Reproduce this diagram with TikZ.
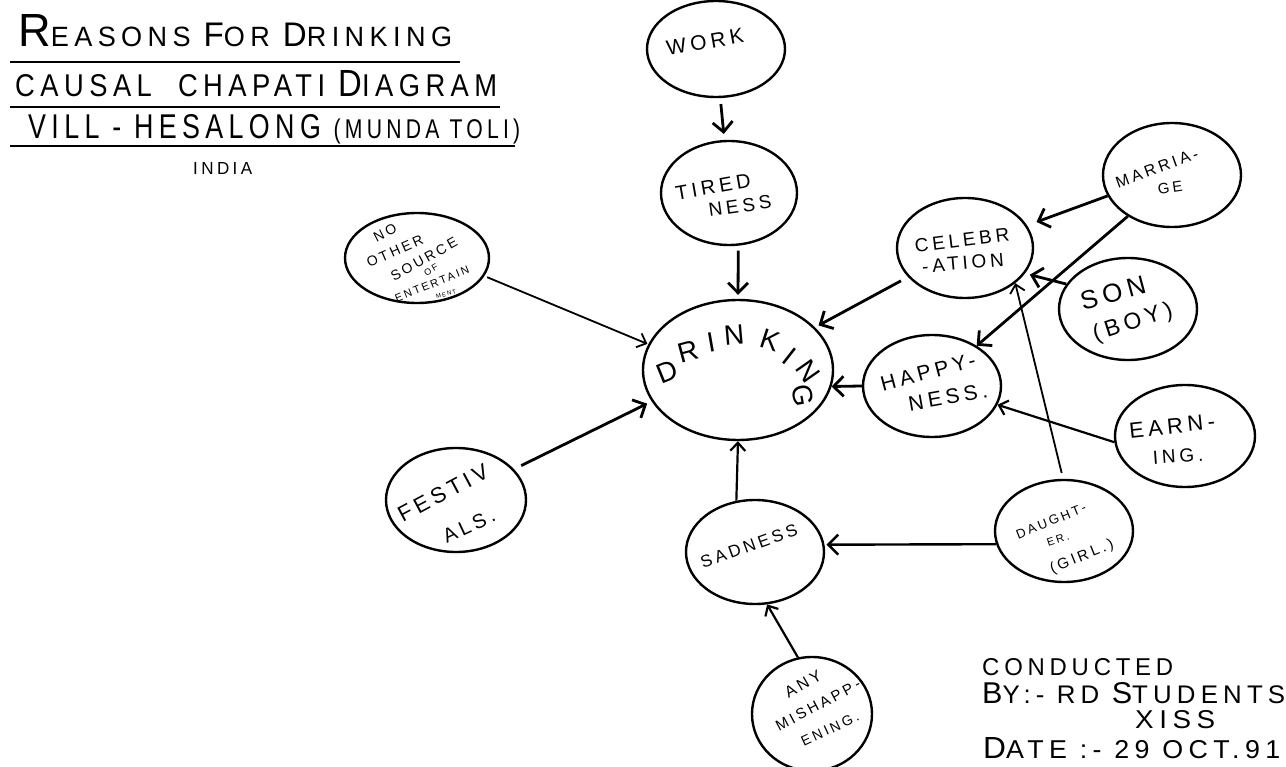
\documentclass[tikz,border=0pt]{standalone}
\usepackage{fontspec}
\setmainfont{Liberation Sans}
\newfontfamily\hand[LetterSpace=20]{Liberation Sans}
\usetikzlibrary{shapes.geometric,arrows.meta}
\newcommand\lsz[2]{{\fontsize{#1}{#1}\selectfont #2}}
\tikzset{
  bub/.style={ellipse, draw, line width=2.4pt, inner sep=0pt},
  tx/.style={inner sep=0pt, font=\hand\fontsize{#1}{#1}\selectfont},
  arr/.style={-{Straight Barb[length=10pt,width=20pt]}, line width=2.8pt},
  tarr/.style={-{Straight Barb[length=8pt,width=15pt]}, line width=1.8pt},
  rule/.style={line width=1.8pt},
  ttl/.style={inner sep=0pt, anchor=base west},
}
\begin{document}
\begin{tikzpicture}[x=1pt,y=-1pt]
\fill[white] (0,0) rectangle (1286,767);
\useasboundingbox (0,0) rectangle (1286,767);

% ---- title ----
\node[ttl] (t1) at (18,47) {\resizebox{434pt}{32pt}{\hand\lsz{27}{\lsz{45}{R}EASONS \lsz{33}{F}OR \lsz{33}{D}RINKING}}};
\draw[rule] (10,62) -- (460,62);
\node[ttl] (t2) at (15,97) {\resizebox{482pt}{26pt}{\hand\lsz{30}{CAUSAL\ \ CHAPATI \lsz{36}{D}IAGRAM}}};
\draw[rule] (10,107) -- (500,107);
\node[ttl] (t3) at (28,139) {\resizebox{492pt}{24pt}{\hand\lsz{33}{VILL - HESALONG \lsz{26}{(MUNDA TOLI)}}}};
\draw[rule] (10,146) -- (515,146);
\node[ttl] (india) at (193,175) {\resizebox{59pt}{12pt}{\hand\lsz{14}{INDIA}}};

% ---- bubbles ----
\node[bub, minimum width=138pt, minimum height=96pt] (work) at (716,49) {};
\node[bub, minimum width=136pt, minimum height=104pt] (tired) at (729,193) {};
\node[bub, minimum width=190pt, minimum height=140pt] (drink) at (738,370) {};
\node[bub, minimum width=144pt, minimum height=90pt] (nos) at (417,258) {};
\node[bub, minimum width=140pt, minimum height=104pt] (fest) at (456,500) {};
\node[bub, minimum width=138pt, minimum height=104pt] (sad) at (755,552) {};
\node[bub, minimum width=120pt, minimum height=114pt] (mis) at (812,714) {};
\node[bub, minimum width=138pt, minimum height=102pt] (daugh) at (1064,531) {};
\node[bub, minimum width=140pt, minimum height=102pt] (earn) at (1185,436) {};
\node[bub, minimum width=138pt, minimum height=102pt] (happy) at (932,386) {};
\node[bub, minimum width=136pt, minimum height=100pt] (celeb) at (965,248) {};
\node[bub, minimum width=138pt, minimum height=104pt] (marr) at (1172,175) {};
\node[bub, minimum width=138pt, minimum height=102pt] (son) at (1128,309) {};

% ---- labels ----
\node[tx=21, rotate=10] (lwork) at (705,42) {WORK};
\node[tx=20, rotate=10] (ltired1) at (713,187) {TIRED};
\node[tx=19, rotate=8] (ltired2) at (740,206) {NESS};
\node[tx=14, rotate=27] (lnos1) at (385,233) {NO};
\node[tx=14, rotate=24] (lnos2) at (395,251) {OTHER};
\node[tx=14, rotate=29] (lnos3) at (424,259) {SOURCE};
\node[tx=9, rotate=30] (lnos4) at (431,270) {OF};
\node[tx=11, rotate=22] (lnos5) at (432,284) {ENTERTAIN};
\node[tx=6, rotate=15] (lnos6) at (446,294) {MENT};
\node[tx=19, rotate=7] (lcel1) at (962,240) {CELEBR};
\node[tx=19, rotate=5] (lcel2) at (963,263) {-ATION};
\node[tx=16, rotate=20] (lmar1) at (1157,168) {MARRIA-};
\node[tx=15, rotate=8] (lmar2) at (1170,188) {GE};
\node[tx=26, rotate=15] (lson1) at (1113,293) {SON};
\node[tx=23, rotate=18] (lson2) at (1133,323) {(BOY)};
\node[tx=21, rotate=15] (lhap1) at (928,372) {HAPPY-};
\node[tx=21, rotate=10] (lhap2) at (948,397) {NESS.};
\node[tx=22, rotate=6] (learn1) at (1172,426) {EARN-};
\node[tx=19, rotate=4] (learn2) at (1178,456) {ING.};
\node[tx=13, rotate=22] (ldau1) at (1051,521) {DAUGHT-};
\node[tx=11, rotate=18] (ldau2) at (1058,539) {ER.};
\node[tx=15, rotate=22] (ldau3) at (1082,557) {(GIRL.)};
\node[tx=17, rotate=20] (lsad) at (749,546) {SADNESS};
\node[tx=16, rotate=30] (lmis1) at (803,684) {ANY};
\node[tx=15, rotate=28] (lmis2) at (818,705) {MISHAPP-};
\node[tx=14, rotate=25] (lmis3) at (830,729) {ENING.};
\node[tx=22, rotate=28] (lfes1) at (443,493) {FESTIV};
\node[tx=20, rotate=25] (lfes2) at (469,526) {ALS.};
% DRINKING along the arc
\node[tx=28, rotate=22] (d1) at (667,372) {D};
\node[tx=28, rotate=15] (d2) at (688,352) {R};
\node[tx=28, rotate=10] (d3) at (711,342) {I};
\node[tx=28, rotate=5] (d4) at (734,335) {N};
\node[tx=28, rotate=-18] (d5) at (770,340) {K};
\node[tx=28, rotate=-38] (d6) at (789,356) {I};
\node[tx=28, rotate=-55] (d7) at (808,371) {N};
\node[tx=28, rotate=-80] (d8) at (803,396) {G};

% ---- credit ----
\node[ttl] (c1) at (982,675) {\resizebox{191pt}{17pt}{\hand\lsz{20}{CONDUCTED}}};
\node[ttl] (c2) at (982,703) {\resizebox{303pt}{21pt}{\hand\lsz{22}{\lsz{26}{B}Y:- RD \lsz{26}{S}TUDENTS}}};
\node[ttl] (c3) at (1135,728) {\resizebox{80pt}{18pt}{\hand\lsz{22}{XISS}}};
\node[ttl] (c4) at (983,758) {\resizebox{297pt}{21pt}{\hand\lsz{22}{\lsz{26}{D}ATE :- 29 OCT.91}}};

% ---- connectors ----
\draw[arr, shorten <=6pt, shorten >=6pt] (work.-85) -- (tired.95);
\draw[arr, shorten <=5pt, shorten >=4pt] (tired.-80) -- (drink.90);
\draw[tarr, shorten <=3pt, shorten >=1pt] (nos.-15) -- (drink.164);
\draw[arr, shorten <=8pt, shorten >=5pt] (fest.28) -- (drink.200);
\draw[tarr, line width=2.2pt] (sad.110) -- (drink.-90);
\draw[tarr, line width=2.2pt] (mis.104) -- (sad.-77);
\draw[arr, line width=2.4pt, shorten >=2pt] (daugh.191) -- (sad.6);
\draw[tarr, shorten <=6pt] (daugh.91) -- (celeb.-35);
\draw[tarr, line width=2.2pt] (earn.185) -- (happy.-16);
\draw[arr] (happy.180) -- (drink.-10);
\draw[arr, shorten <=8pt, shorten >=4pt] (celeb.207) -- (drink.29);
\draw[arr, shorten >=10pt] (marr.198) -- (celeb.20);
\draw[arr] (marr.223) -- (happy.42);
\draw[arr, shorten >=5pt] (son.158) -- (celeb.-23);
\end{tikzpicture}
\end{document}
